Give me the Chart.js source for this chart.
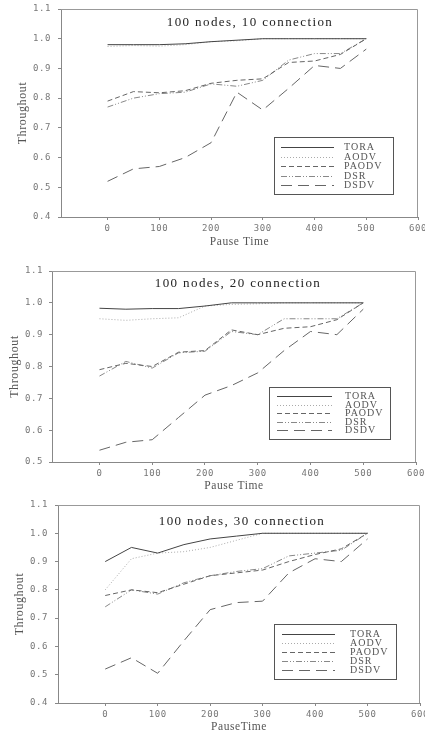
<!DOCTYPE html>
<html>
<head>
<meta charset="utf-8">
<script src="https://cdn.jsdelivr.net/npm/chart.js@4.4.1/dist/chart.umd.min.js"></script>
<style>
  html, body { margin: 0; padding: 0; background: #fff; }
  body { width: 425px; height: 735px; position: relative; overflow: hidden; }
  .box { position: absolute; left: 0; width: 425px; }
</style>
</head>
<body>
<div class="box" style="top:0;height:250px"><canvas id="c1"></canvas></div>
<div class="box" style="top:245px;height:250px"><canvas id="c2"></canvas></div>
<div class="box" style="top:490px;height:245px"><canvas id="c3"></canvas></div>
<script>
// pause times (x) and protocol names
const pauseTimes = [0, 50, 100, 150, 200, 250, 300, 350, 400, 450, 500];
const protocols = ['TORA', 'AODV', 'PAODV', 'DSR', 'DSDV'];
const xTicks = [0, 100, 200, 300, 400, 500, 600];

// 100 nodes, 10 connection
const tora10  = [0.98, 0.98, 0.98, 0.983, 0.99, 0.995, 1.0, 1.0, 1.0, 1.0, 1.0];
const aodv10  = [0.974, 0.977, 0.975, 0.98, 0.99, 0.993, 1.0, 1.0, 1.0, 1.0, 1.0];
const paodv10 = [0.79, 0.822, 0.818, 0.825, 0.85, 0.86, 0.865, 0.92, 0.925, 0.947, 1.0];
const dsr10   = [0.77, 0.80, 0.815, 0.82, 0.848, 0.84, 0.86, 0.928, 0.95, 0.95, 1.0];
const dsdv10  = [0.52, 0.562, 0.57, 0.60, 0.65, 0.82, 0.76, 0.833, 0.91, 0.90, 0.965];

// 100 nodes, 20 connection
const tora20  = [0.983, 0.98, 0.982, 0.982, 0.99, 1.0, 1.0, 1.0, 1.0, 1.0, 1.0];
const aodv20  = [0.95, 0.945, 0.95, 0.953, 0.99, 0.995, 0.997, 1.0, 1.0, 1.0, 1.0];
const paodv20 = [0.79, 0.81, 0.80, 0.845, 0.85, 0.915, 0.90, 0.92, 0.925, 0.947, 1.0];
const dsr20   = [0.77, 0.816, 0.795, 0.843, 0.848, 0.91, 0.90, 0.95, 0.95, 0.95, 1.0];
const dsdv20  = [0.537, 0.562, 0.57, 0.64, 0.71, 0.74, 0.78, 0.85, 0.91, 0.90, 0.98];

// 100 nodes, 30 connection
const tora30  = [0.90, 0.95, 0.93, 0.96, 0.98, 0.99, 1.0, 1.0, 1.0, 1.0, 1.0];
const aodv30  = [0.80, 0.91, 0.93, 0.935, 0.95, 0.975, 1.0, 1.0, 1.0, 1.0, 1.0];
const paodv30 = [0.78, 0.80, 0.79, 0.82, 0.85, 0.86, 0.87, 0.90, 0.925, 0.945, 1.0];
const dsr30   = [0.74, 0.80, 0.785, 0.825, 0.85, 0.865, 0.875, 0.92, 0.93, 0.94, 1.0];
const dsdv30  = [0.52, 0.56, 0.505, 0.62, 0.73, 0.755, 0.76, 0.86, 0.91, 0.90, 0.98];

// line styles per protocol
const lineStyles = [
    { color: '#444', dash: [] },
    { color: '#aaa', dash: [1, 2] },
    { color: '#666', dash: [5, 3] },
    { color: '#888', dash: [6, 2, 1, 2, 1, 2] },
    { color: '#666', dash: [11, 6] }
];

const tickFont = { family: 'DejaVu Sans Mono', size: 9 };

// a bit of letter spacing on all text, like the old plotting program
const spacing = {
    id: 'spacing',
    beforeDraw(chart) { chart.ctx.letterSpacing = '0.6px'; }
};

// frame (top + right) and the title inside the plot
const framePlugin = {
    id: 'frame',
    afterDraw(chart, args, opts) {
        const { ctx, chartArea: a } = chart;
        ctx.save();
        ctx.strokeStyle = '#999';
        ctx.lineWidth = 1;
        ctx.beginPath();
        ctx.moveTo(a.left, a.top + 0.5);
        ctx.lineTo(a.right - 0.5, a.top + 0.5);
        ctx.lineTo(a.right - 0.5, a.bottom);
        ctx.stroke();
        ctx.fillStyle = '#222';
        ctx.font = '13px "Liberation Serif"';
        ctx.letterSpacing = '1.4px';
        ctx.textAlign = 'center';
        ctx.textBaseline = 'middle';
        ctx.fillText(opts.text, opts.cx, a.top + opts.dy);
        ctx.restore();
    }
};

// boxed legend with line samples
const boxLegend = {
    id: 'boxLegend',
    afterDraw(chart, args, o) {
        const { ctx, chartArea: a } = chart;
        const x = a.left + o.dx, y = a.top + o.dy;
        ctx.save();
        ctx.strokeStyle = '#555';
        ctx.lineWidth = 1;
        ctx.strokeRect(Math.round(x) + 0.5, Math.round(y) + 0.5, o.w, o.h);
        ctx.font = '10px "Liberation Serif"';
        ctx.letterSpacing = '1px';
        ctx.textBaseline = 'middle';
        chart.data.datasets.forEach((ds, i) => {
            const ly = Math.round(y + o.first + i * o.step) + 0.5;
            ctx.strokeStyle = ds.borderColor;
            ctx.setLineDash(ds.borderDash);
            ctx.beginPath();
            ctx.moveTo(x + o.l0, ly);
            ctx.lineTo(x + o.l1, ly);
            ctx.stroke();
            ctx.setLineDash([]);
            ctx.fillStyle = '#555';
            ctx.fillText(ds.label, x + o.tx, ly);
        });
        ctx.restore();
    }
};

function makeChart(id, series, cfg) {
    const datasets = protocols.map((name, i) => ({
        label: name,
        data: pauseTimes.map((t, k) => ({ x: t, y: series[i][k] })),
        borderColor: lineStyles[i].color,
        borderDash: lineStyles[i].dash,
        borderWidth: 1,
        pointRadius: 0,
        fill: false,
        tension: 0
    }));

    return new Chart(document.getElementById(id), {
        type: 'line',
        data: { datasets: datasets },
        options: {
            responsive: true,
            maintainAspectRatio: false,
            animation: false,
            layout: { padding: { left: 0, top: cfg.top, right: cfg.right, bottom: 0 } },
            scales: {
                x: {
                    type: 'linear',
                    min: -90,
                    max: 600,
                    afterBuildTicks: (s) => { s.ticks = xTicks.map(v => ({ value: v })); },
                    afterFit: (s) => {
                        s.height = cfg.xh;
                        s.paddingLeft = 0;
                        s.paddingRight = 0;
                    },
                    grid: { drawOnChartArea: false, tickLength: 3, color: '#888' },
                    border: { color: '#888' },
                    ticks: { font: tickFont, color: '#777', padding: 3, maxRotation: 0 },
                    title: {
                        display: true,
                        text: cfg.xTitle,
                        font: { family: 'Liberation Serif', size: 11.5 },
                        color: '#555',
                        padding: { top: 0, bottom: cfg.xtp }
                    }
                },
                y: {
                    min: cfg.ymin,
                    max: 1.1,
                    afterFit: (s) => {
                        s.width = cfg.left;
                        s.paddingTop = 0;
                        s.paddingBottom = 0;
                    },
                    grid: { drawOnChartArea: false, tickLength: 3, color: '#888' },
                    border: { color: '#888' },
                    ticks: {
                        stepSize: 0.1,
                        font: tickFont,
                        color: '#777',
                        padding: cfg.ypad,
                        callback: (v) => v.toFixed(1)
                    },
                    title: {
                        display: true,
                        text: 'Throughout',
                        font: { family: 'Liberation Serif', size: 12 },
                        color: '#555',
                        padding: { top: cfg.ytp, bottom: 0 }
                    }
                }
            },
            plugins: {
                legend: { display: false },
                tooltip: { enabled: false },
                frame: { text: cfg.title, cx: cfg.tcx, dy: cfg.tdy },
                boxLegend: cfg.legend
            }
        },
        plugins: [spacing, framePlugin, boxLegend]
    });
}

makeChart('c1', [tora10, aodv10, paodv10, dsr10, dsdv10], {
    title: '100 nodes, 10 connection', tcx: 250, tdy: 14,
    xTitle: 'Pause Time', ymin: 0.4,
    top: 9, right: 7, left: 61, xh: 33, xtp: 1, ypad: 7, ytp: 16,
    legend: { dx: 213, dy: 128, w: 119, h: 57, first: 10, step: 9.5, l0: 7, l1: 60, tx: 70 }
});

makeChart('c2', [tora20, aodv20, paodv20, dsr20, dsdv20], {
    title: '100 nodes, 20 connection', tcx: 238, tdy: 13,
    xTitle: 'Pause Time', ymin: 0.5,
    top: 26, right: 9, left: 52, xh: 33, xtp: 2, ypad: 6, ytp: 8,
    legend: { dx: 217, dy: 116, w: 121, h: 52, first: 9, step: 8.5, l0: 8, l1: 63, tx: 76 }
});

makeChart('c3', [tora30, aodv30, paodv30, dsr30, dsdv30], {
    title: '100 nodes, 30 connection', tcx: 242, tdy: 17,
    xTitle: 'PauseTime', ymin: 0.4,
    top: 15, right: 5, left: 58, xh: 32, xtp: 1, ypad: 7, ytp: 13,
    legend: { dx: 216, dy: 119, w: 122, h: 55, first: 10, step: 9, l0: 8, l1: 61, tx: 76 }
});
</script>
</body>
</html>
